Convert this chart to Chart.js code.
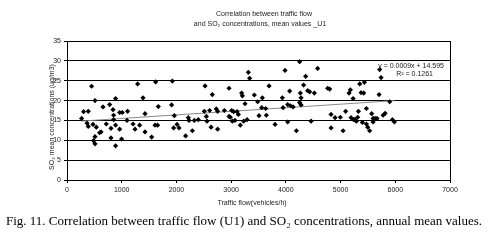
<!DOCTYPE html>
<html>
<head>
<meta charset="utf-8">
<script src="https://cdn.jsdelivr.net/npm/chart.js@4.4.1/dist/chart.umd.min.js"></script>
<style>
  html, body { margin: 0; padding: 0; background: #fff; }
  #wrap { position: relative; width: 495px; height: 245px; }
</style>
</head>
<body>
<div id="wrap"><canvas id="chart" width="495" height="245"></canvas></div>
<script>
// values
const trafficFlow = [
  267, 303, 389, 366, 389, 450, 512, 475, 536, 512, 486, 512, 596, 622, 658, 718,
  779, 804, 804, 841, 852, 852, 888, 888, 888, 962, 962, 998, 1011, 1097, 1108, 1207,
  1243, 1291, 1327, 1389, 1426, 1426, 1547, 1620, 1609, 1656, 1669, 1912, 1925, 1962, 1949, 2011,
  2048, 2168, 2218, 2230, 2291, 2327, 2400, 2510, 2523, 2547, 2559, 2607, 2633, 2656, 2729, 2753,
  2753, 2876, 2962, 2962, 2985, 3009, 3022, 3046, 3071, 3108, 3132, 3168, 3192, 3205, 3229, 3254,
  3291, 3314, 3338, 3424, 3485, 3510, 3558, 3570, 3631, 3644, 3693, 3803,
  3936, 3949, 3985, 4033, 4033, 4070, 4082, 4132, 4192, 4252, 4252, 4265, 4278, 4278, 4325, 4362,
  4399, 4435, 4461, 4521, 4581, 4764, 4801, 4826, 4826, 4899, 4996, 5046, 5093, 5155, 5179, 5192,
  5229, 5240, 5265, 5289, 5313, 5326, 5350, 5375, 5399, 5423, 5435, 5472, 5472, 5496, 5532, 5569,
  5594, 5594, 5631, 5667, 5704, 5715, 5740, 5777, 5814, 5898, 5947, 5984
];
const so2 = [
  15.5, 17.2, 17.3, 14.3, 13.5, 23.6, 20.0, 14.0, 13.3, 10.9, 9.9, 9.1, 11.9, 12.1, 18.4, 14.1,
  19.0, 13.0, 10.6, 17.7, 16.3, 15.2, 20.5, 13.8, 8.6, 17.0, 12.8, 10.3, 17.0, 15.0, 17.3, 14.1,
  12.8, 24.2, 13.8, 20.7, 16.7, 12.1, 10.8, 24.7, 13.8, 13.8, 18.5, 18.9, 24.9, 16.2, 13.1, 14.0,
  13.1, 11.1, 15.7, 15.0, 12.4, 15.0, 15.2, 17.3, 23.7, 16.0, 14.8, 17.5, 13.3, 21.5, 17.9, 12.8,
  17.3, 17.5, 23.1, 16.0, 15.8, 17.5, 14.8, 17.2, 15.0, 17.2, 16.5, 13.8, 21.9, 21.2, 14.8, 19.2,
  15.2, 27.1, 25.6, 21.4, 19.7, 16.2, 18.2, 20.7, 18.0, 16.3, 23.7, 14.0,
  20.7, 18.2, 27.6, 19.0, 14.6, 22.4, 18.7, 18.4, 12.4, 29.8, 19.5, 21.9, 20.7, 18.9, 23.9, 26.1,
  22.5, 22.2, 14.8, 21.9, 28.1, 23.1, 22.9, 16.5, 13.1, 15.7, 15.8, 12.4, 17.3, 21.9, 22.7, 15.7,
  20.5, 15.2, 15.3, 14.8, 15.8, 17.3, 24.2, 22.0, 14.5, 21.9, 24.6, 18.0, 14.1, 13.3, 12.4, 16.7,
  15.5, 14.6, 15.5, 15.5, 21.5, 27.8, 25.8, 16.3, 16.8, 19.7, 15.2, 14.6
];
const xTicks = [0, 1000, 2000, 3000, 4000, 5000, 6000, 7000];
const yTicks = [0, 5, 10, 15, 20, 25, 30, 35];

// trend line as printed on the chart
const slope = 0.0009;
const intercept = 14.595;
const equationText = "y = 0.0009x + 14.595";
const r2Text = "R\u00B2 = 0.1261";

const titleLines = ["Correlation between traffic flow", "and SO\u2082 concentrations, mean values _U1"];
const xTitle = "Traffic flow(vehicles/h)";
const yTitle = "SO\u2082 mean concentrations (ug/m3)";
const caption = "Fig. 11. Correlation between traffic flow (U1) and SO\u2082 concentrations, annual mean values.";

const xMin = Math.min(...trafficFlow);
const xMax = Math.max(...trafficFlow);
const trendData = [
  { x: xMin, y: slope * xMin + intercept },
  { x: xMax, y: slope * xMax + intercept },
];
const points = trafficFlow.map((x, i) => ({ x: x, y: so2[i] }));

const SANS = "'Liberation Sans', Arial, sans-serif";
const SERIF = "'Liberation Serif', 'Times New Roman', serif";

const textPlugin = {
  id: "texts",
  beforeDraw(chart) {
    const c = chart.ctx;
    c.save();
    c.fillStyle = "#fff";
    c.fillRect(0, 0, chart.width, chart.height);
    c.restore();
  },
  beforeDatasetsDraw(chart) {
    const a = chart.chartArea;
    const c = chart.ctx;
    c.save();
    c.strokeStyle = "#000";
    c.lineWidth = 1;
    c.strokeRect(Math.round(a.left) + 0.5, Math.round(a.top) + 0.5,
      Math.round(a.right - a.left), Math.round(a.bottom - a.top));
    c.restore();
  },
  afterDraw(chart) {
    const c = chart.ctx;
    c.save();
    c.fillStyle = "#222";
    c.textBaseline = "middle";
    c.textAlign = "center";
    c.font = "7px " + SANS;
    c.fillText(titleLines[0], 264, 14);
    c.fillText(titleLines[1], 260, 24);
    c.fillText(xTitle, 252, 203);
    c.save();
    c.translate(52, 117);
    c.rotate(-Math.PI / 2);
    c.fillText(yTitle, 0, 0);
    c.restore();
    c.textAlign = "right";
    c.fillText(equationText, 444, 66);
    c.fillText(r2Text, 433, 74);
    c.fillStyle = "#000";
    c.textAlign = "left";
    c.font = "13px " + SERIF;
    c.fillText(caption, 6, 222, 486);
    c.restore();
  },
};

new Chart(document.getElementById("chart"), {
  type: "scatter",
  data: {
    datasets: [
      {
        label: "SO2",
        data: points,
        pointStyle: "rectRot",
        pointRadius: 2.6,
        pointBackgroundColor: "#000",
        pointBorderColor: "#000",
        pointBorderWidth: 0,
        order: 1,
      },
      {
        label: "trend",
        type: "line",
        data: trendData,
        borderColor: "#8a8a8a",
        borderWidth: 1,
        pointRadius: 0,
        fill: false,
        order: 2,
      },
    ],
  },
  options: {
    responsive: false,
    animation: false,
    layout: { padding: { left: 0, right: 45, top: 41, bottom: 45 } },
    plugins: {
      legend: { display: false },
      tooltip: { enabled: false },
      title: { display: false },
    },
    scales: {
      x: {
        type: "linear",
        min: xTicks[0],
        max: xTicks[xTicks.length - 1],
        afterBuildTicks: (s) => { s.ticks = xTicks.map((v) => ({ value: v })); },
        afterFit: (s) => { s.height = 20; },
        grid: { display: true, drawOnChartArea: false, color: "#000", tickLength: 3 },
        border: { display: true, color: "#000" },
        ticks: {
          color: "#222", font: { size: 7, family: SANS }, padding: 3, maxRotation: 0,
          callback: (v) => String(v),
        },
      },
      y: {
        min: yTicks[0],
        max: yTicks[yTicks.length - 1],
        afterBuildTicks: (s) => { s.ticks = yTicks.map((v) => ({ value: v })); },
        afterFit: (s) => { s.width = 67; },
        grid: { color: "#000", lineWidth: 1, tickLength: 3 },
        border: { display: true, color: "#000" },
        ticks: { color: "#222", font: { size: 7, family: SANS }, padding: 3 },
      },
    },
  },
  plugins: [textPlugin],
});
</script>
</body>
</html>
